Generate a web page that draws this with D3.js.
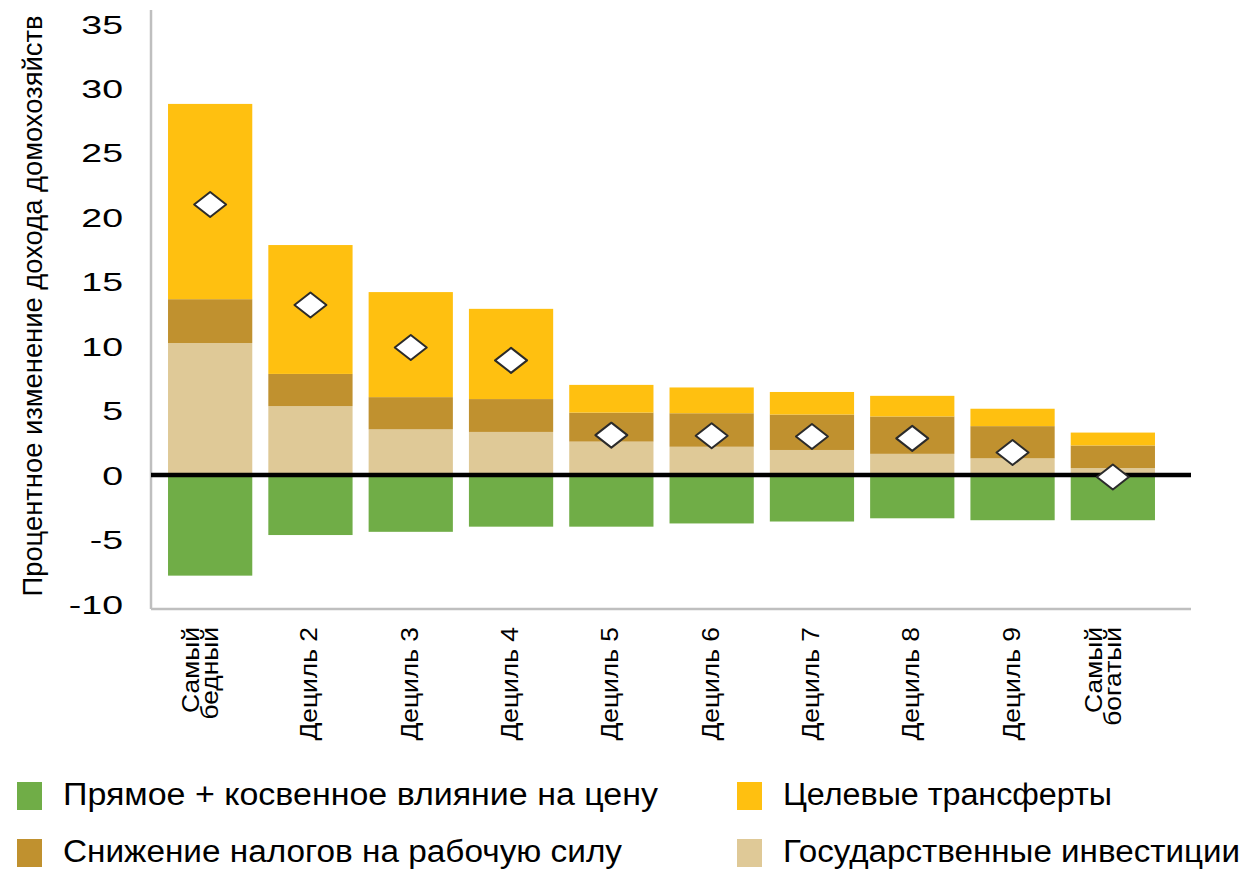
<!DOCTYPE html>
<html><head><meta charset="utf-8">
<script src="https://cdn.jsdelivr.net/npm/d3@7"></script>
<style>
body{margin:0;background:#fff}
text{font-family:"Liberation Sans",Arial,sans-serif;fill:#000}
</style>
</head><body><svg id="c" width="1248" height="872"></svg>
<script>
const categories = ["Самый бедный","Дециль 2","Дециль 3","Дециль 4","Дециль 5","Дециль 6","Дециль 7","Дециль 8","Дециль 9","Самый богатый"];
const priceImpact = [-7.8,-4.65,-4.4,-4.0,-4.0,-3.75,-3.6,-3.35,-3.5,-3.5];
const publicInvestment = [10.25,5.35,3.55,3.35,2.6,2.2,1.95,1.65,1.3,0.55];
const laborTaxCut = [3.4,2.5,2.5,2.55,2.25,2.6,2.75,2.9,2.5,1.75];
const targetedTransfers = [15.15,10.0,8.15,7.0,2.15,2.0,1.75,1.6,1.35,1.0];
const netEffect = [21.0,13.2,9.9,8.9,3.1,3.05,3.0,2.85,1.75,-0.15];
const yTicks = [-10,-5,0,5,10,15,20,25,30,35];
const seriesKeys = ["priceImpact","publicInvestment","laborTaxCut","targetedTransfers"];
const seriesNames = ["Прямое + косвенное влияние на цену","Государственные инвестиции","Снижение налогов на рабочую силу","Целевые трансферты"];
const seriesColors = ["#70AD47","#DFC997","#C0912F","#FFC010"];

const rows = categories.map((c,i)=>({cat:c,priceImpact:priceImpact[i],publicInvestment:publicInvestment[i],laborTaxCut:laborTaxCut[i],targetedTransfers:targetedTransfers[i],net:netEffect[i]}));

const svg = d3.select("#c");
const x = d3.scaleBand().domain(categories).range([160,1163]).paddingInner(0.16).paddingOuter(0.08);
const y = d3.scaleLinear().domain([-10,35]).range([604,24]);
const color = d3.scaleOrdinal().domain(seriesKeys).range(seriesColors);

const stack = d3.stack().keys(seriesKeys).offset(d3.stackOffsetDiverging);
const stacked = stack(rows);

// axes lines
svg.append("line").attr("x1",151).attr("x2",151).attr("y1",10).attr("y2",609).attr("stroke","#BFBFBF").attr("stroke-width",2.5);
svg.append("line").attr("x1",151).attr("x2",1191).attr("y1",609).attr("y2",609).attr("stroke","#BFBFBF").attr("stroke-width",2.5);

// bars
svg.append("g").selectAll("g").data(stacked).join("g")
  .attr("fill",d=>color(d.key))
  .selectAll("rect").data(d=>d).join("rect")
  .attr("x",d=>x(d.data.cat))
  .attr("width",x.bandwidth())
  .attr("y",d=>y(Math.max(d[0],d[1])))
  .attr("height",d=>Math.abs(y(d[0])-y(d[1])));

// zero line
svg.append("line").attr("x1",151).attr("x2",1191).attr("y1",y(0)).attr("y2",y(0)).attr("stroke","#000").attr("stroke-width",4.5);

// diamonds
svg.append("g").selectAll("path").data(rows).join("path")
  .attr("transform",d=>`translate(${x(d.cat)+x.bandwidth()/2},${y(d.net)})`)
  .attr("d","M-16,0L0,-12.5L16,0L0,12.5Z")
  .attr("fill","#fff").attr("stroke","#2b2b2b").attr("stroke-width",2).attr("stroke-linejoin","round");

// y axis ticks
const yAxis = svg.append("g").attr("transform","translate(151,0)")
  .call(d3.axisLeft(y).tickValues(yTicks).tickSize(0).tickFormat(d=>String(d)));
yAxis.select(".domain").remove();
yAxis.selectAll("text")
  .attr("x",0).attr("dy","0.36em")
  .attr("transform","translate(-28,0) scale(1.5,1)")
  .attr("text-anchor","end")
  .style("font-size","25px").style("font-family","'Liberation Sans',Arial,sans-serif").attr("fill","#000");

// y title
svg.append("text")
  .attr("transform","translate(42,306) rotate(-90)")
  .attr("text-anchor","middle")
  .attr("textLength",581).attr("lengthAdjust","spacingAndGlyphs")
  .style("font-size","27px")
  .text("Процентное изменение дохода домохозяйств");

// x labels
const xl = svg.append("g").selectAll("g").data(categories).join("g")
  .attr("transform",d=>`translate(${x(d)+x.bandwidth()/2},627) rotate(-90) scale(1.1,1)`);
xl.each(function(d){
  const g = d3.select(this);
  const parts = d.split(" ");
  if (parts.length===2 && d.startsWith("Самый")) {
    g.append("text").attr("text-anchor","end").attr("y",-11).style("font-size","24px").text(parts[0]);
    g.append("text").attr("text-anchor","end").attr("y",8).style("font-size","24px").text(parts[1]);
  } else {
    g.append("text").attr("text-anchor","end").attr("y",7).style("font-size","24px").text(d);
  }
});

// legend
const legendItems = [
  {key:"priceImpact",col:0,row:0,len:595},
  {key:"targetedTransfers",col:1,row:0,len:329},
  {key:"laborTaxCut",col:0,row:1,len:559},
  {key:"publicInvestment",col:1,row:1,len:457}
];
const lg = svg.append("g").selectAll("g").data(legendItems).join("g")
  .attr("transform",d=>`translate(${d.col===0?17:737},${d.row===0?782:839})`);
lg.append("rect").attr("width",25).attr("height",28).attr("fill",d=>color(d.key));
lg.append("text").attr("x",46).attr("y",23).style("font-size","31px")
  .attr("textLength",d=>d.len).attr("lengthAdjust","spacingAndGlyphs")
  .text(d=>seriesNames[seriesKeys.indexOf(d.key)]);
</script>
</body></html>
